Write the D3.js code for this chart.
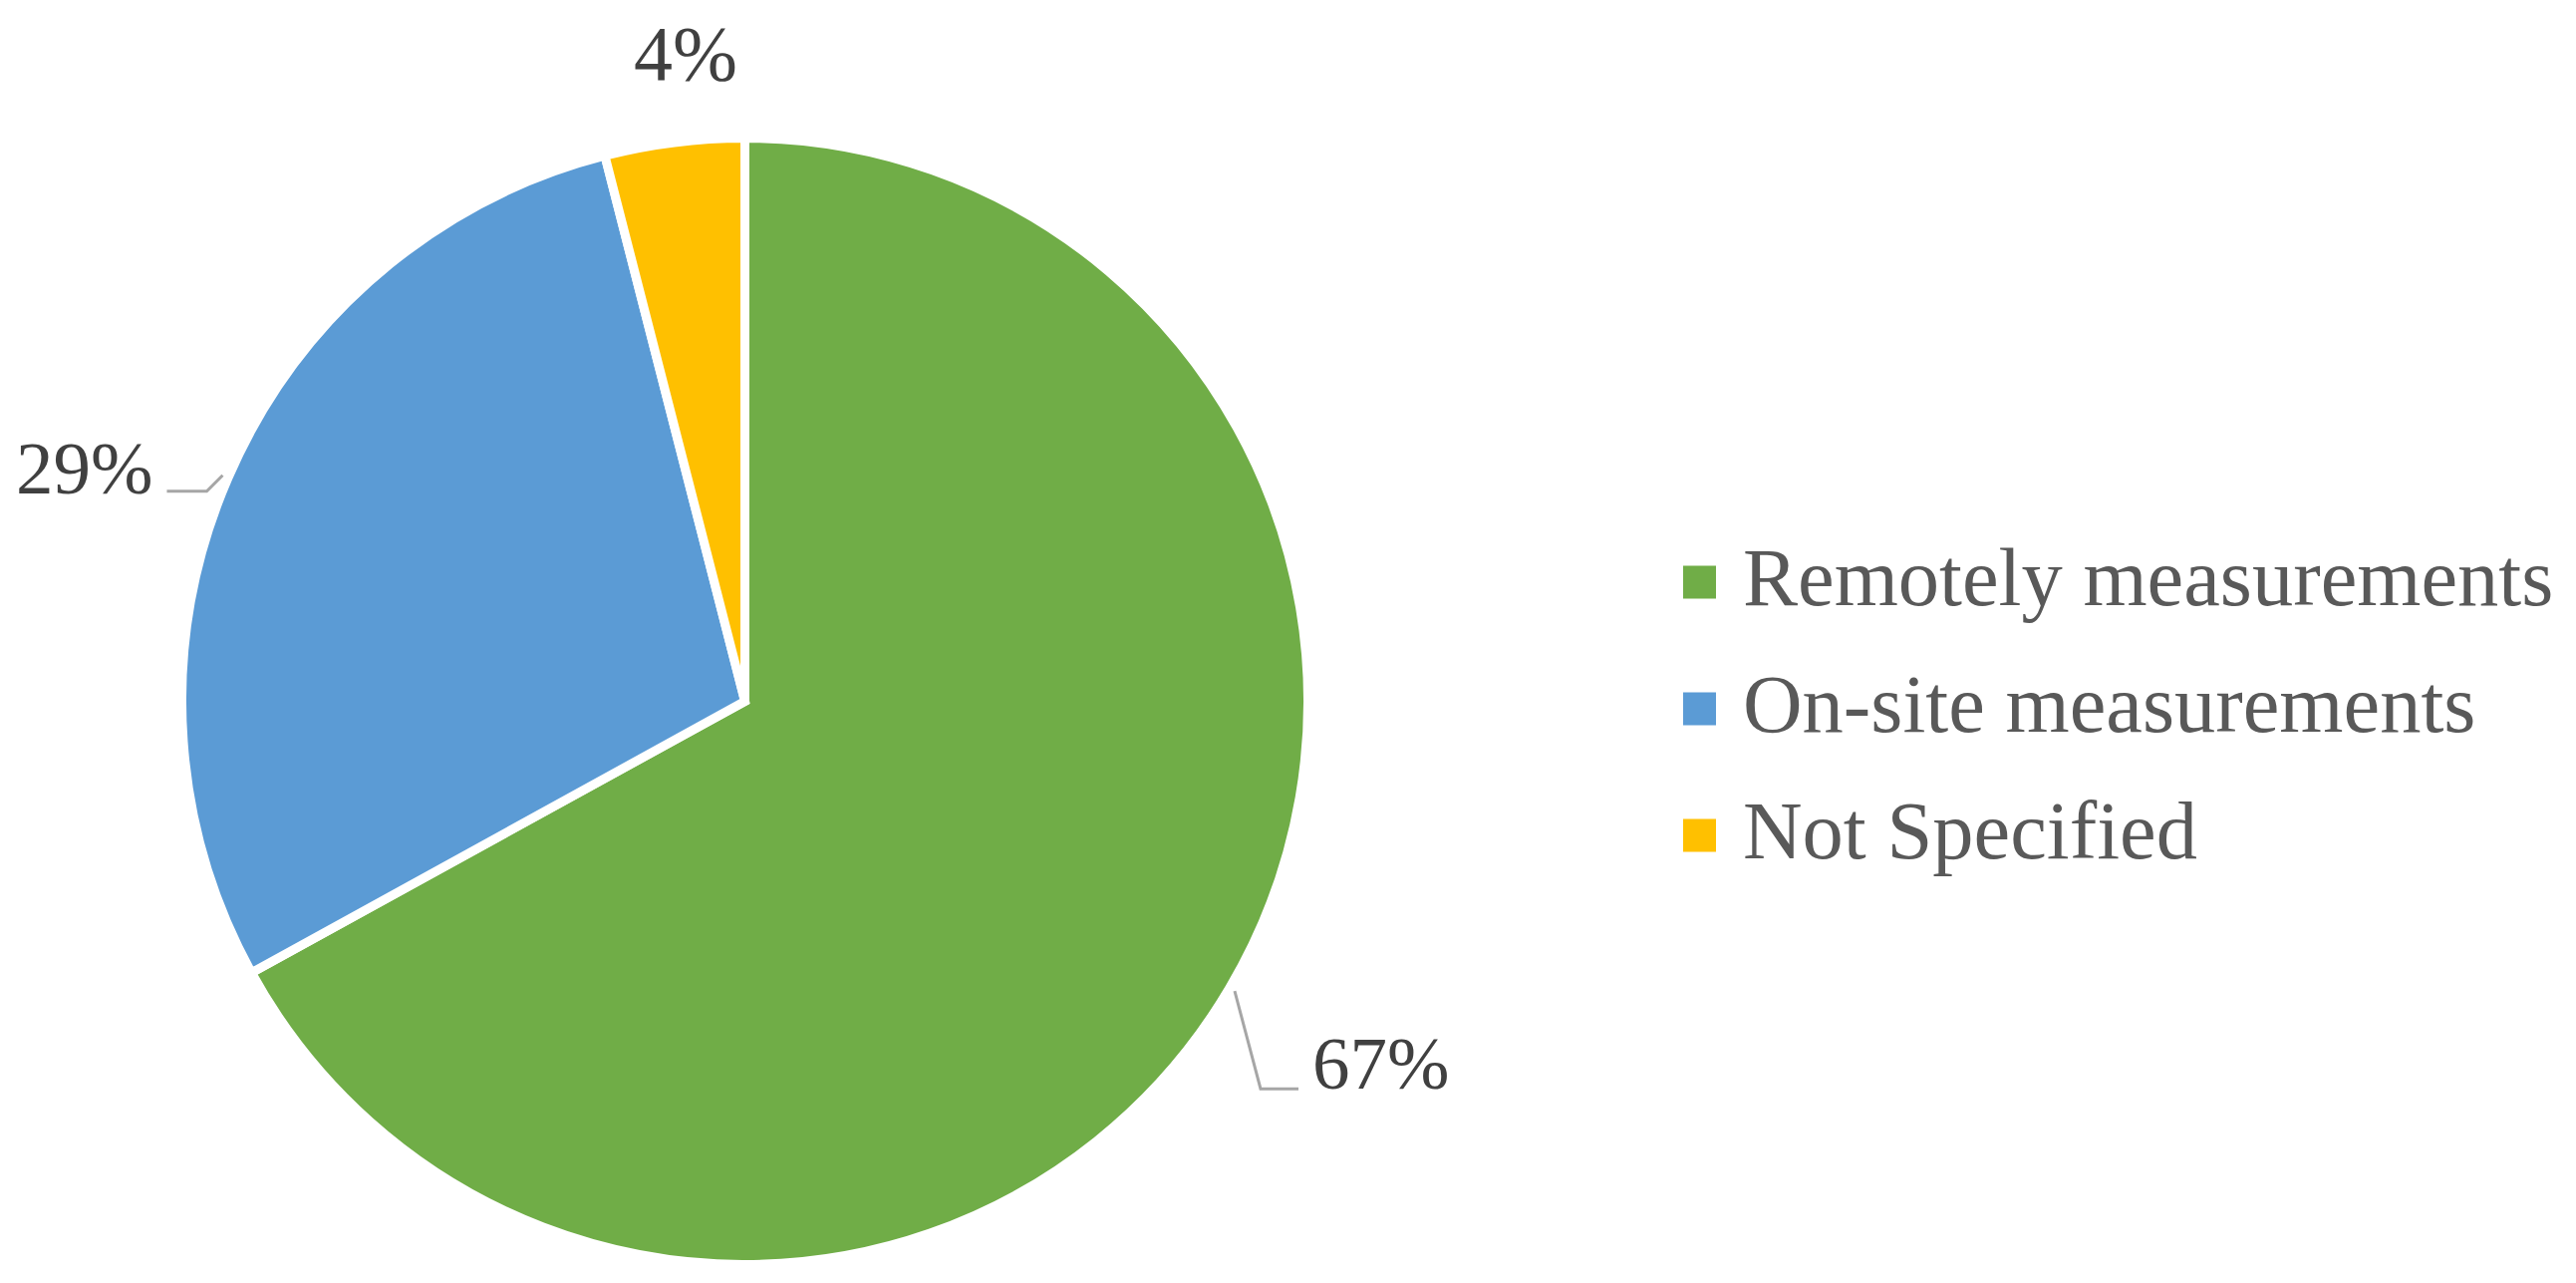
<!DOCTYPE html>
<html>
<head>
<meta charset="utf-8">
<script src="https://cdn.jsdelivr.net/npm/d3@7"></script>
<style>
  html, body { margin: 0; padding: 0; background: #ffffff; }
  svg { display: block; }
</style>
</head>
<body>
<svg id="chart" width="2585" height="1287"></svg>
<script>
// ---- data ----
const categories = ["Remotely measurements", "On-site measurements", "Not Specified"];
const shares = [67, 29, 4];
const labels = ["67%", "29%", "4%"];
const colors = ["#70AD47", "#5B9BD5", "#FFC000"];

// ---- layout ----
const W = 2585, H = 1287;
const cx = 747.5, cy = 703.5, R = 565;
const svg = d3.select("#chart");

const data = categories.map((c, i) => ({ name: c, value: shares[i], label: labels[i], color: colors[i] }));
const pie = d3.pie().sort(null).value(d => d.value).startAngle(0).endAngle(2 * Math.PI);
const arcs = pie(data);
const arc = d3.arc().innerRadius(0).outerRadius(R);

const g = svg.append("g").attr("transform", `translate(${cx},${cy})`);
g.selectAll("path.slice")
  .data(arcs)
  .enter().append("path")
  .attr("class", "slice")
  .attr("d", arc)
  .attr("fill", d => d.data.color)
  .attr("stroke", "#ffffff")
  .attr("stroke-width", 9)
  .attr("stroke-linejoin", "miter");

// label placement (layout offsets relative to point on slice edge)
const labelFont = "'Liberation Serif', 'Times New Roman', serif";
const labelLayout = {
  "67%": { leader: true, elbow: [26, 98], end: [64, 98], text: [78, 98], anchor: "start" },
  "29%": { leader: true, elbow: [-16, 16], end: [-56, 16], text: [-70, 18], anchor: "end" },
  "4%":  { leader: false, text: [0, 0], anchor: "middle" }
};
function edgePoint(d, rr) {
  const a = (d.startAngle + d.endAngle) / 2;
  return [Math.sin(a) * rr, -Math.cos(a) * rr];
}
arcs.forEach(d => {
  const L = labelLayout[d.data.label];
  if (L.leader) {
    const p = edgePoint(d, R + 6);
    g.append("polyline")
      .attr("points", [p, [p[0] + L.elbow[0], p[1] + L.elbow[1]], [p[0] + L.end[0], p[1] + L.end[1]]].map(q => q.join(",")).join(" "))
      .attr("fill", "none")
      .attr("stroke", "#A6A6A6")
      .attr("stroke-width", 3);
    g.append("text")
      .attr("x", p[0] + L.text[0])
      .attr("y", p[1] + L.text[1])
      .attr("text-anchor", L.anchor)
      .attr("font-family", labelFont)
      .attr("font-size", 75)
      .attr("fill", "#404040")
      .text(d.data.label);
  } else {
    const p = edgePoint(d, R + 70);
    g.append("text")
      .attr("x", p[0] + 20)
      .attr("y", p[1] + 6)
      .attr("text-anchor", L.anchor)
      .attr("font-family", labelFont)
      .attr("font-size", 78)
      .attr("fill", "#404040")
      .text(d.data.label);
  }
});

// legend
const legendX = 1689, legendY0 = 584, legendStep = 127, sq = 33;
const lg = svg.append("g");
const items = lg.selectAll("g.item")
  .data(data)
  .enter().append("g")
  .attr("class", "item")
  .attr("transform", (d, i) => `translate(${legendX},${legendY0 + i * legendStep})`);
items.append("rect")
  .attr("x", 0).attr("y", -sq / 2)
  .attr("width", sq).attr("height", sq)
  .attr("fill", d => d.color);
items.append("text")
  .attr("x", 60).attr("y", 23)
  .attr("font-family", labelFont)
  .attr("font-size", 82.5)
  .attr("fill", "#595959")
  .text(d => d.name);
</script>
</body>
</html>
